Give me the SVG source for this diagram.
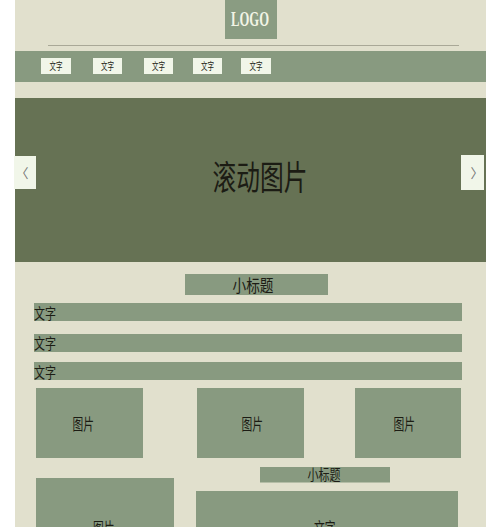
<svg xmlns="http://www.w3.org/2000/svg" width="500" height="527" viewBox="0 0 500 527">
<style>
.cj{font-family:"Noto Sans CJK SC","Noto Sans",sans-serif;fill:#1c1c14}
.g{fill:#889a80}
.btn{fill:#f1f6e9}
</style>
<rect x="0" y="0" width="500" height="527" fill="#ffffff"/>
<rect x="15" y="0" width="471" height="527" fill="#e1e0cd"/>
<g id="logo">
<rect x="225" y="0" width="52" height="39" fill="#8a9c82"/>
<text x="231" y="26" font-family="Liberation Serif,serif" font-weight="bold" font-size="20" textLength="38" lengthAdjust="spacingAndGlyphs" fill="#f2f4e6">LOGO</text>
</g>
<g id="divider"><line x1="48" y1="45.5" x2="459" y2="45.5" stroke="#a9a897" stroke-width="1"/></g>
<g id="nav">
<rect x="15" y="51" width="471" height="31" class="g"/>
<rect x="41" y="58" width="30" height="16" class="btn"/>
<text x="49.5" y="70" class="cj" font-size="10.5" textLength="13" lengthAdjust="spacingAndGlyphs">文字</text>
<rect x="93" y="58" width="29" height="16" class="btn"/>
<text x="101" y="70" class="cj" font-size="10.5" textLength="13" lengthAdjust="spacingAndGlyphs">文字</text>
<rect x="144" y="58" width="29" height="16" class="btn"/>
<text x="152" y="70" class="cj" font-size="10.5" textLength="13" lengthAdjust="spacingAndGlyphs">文字</text>
<rect x="193" y="58" width="29" height="16" class="btn"/>
<text x="201" y="70" class="cj" font-size="10.5" textLength="13" lengthAdjust="spacingAndGlyphs">文字</text>
<rect x="241" y="58" width="30" height="16" class="btn"/>
<text x="249.5" y="70" class="cj" font-size="10.5" textLength="13" lengthAdjust="spacingAndGlyphs">文字</text>
</g>
<g id="banner">
<rect x="15" y="98" width="471" height="164" fill="#667254"/>
<text x="212.5" y="190" class="cj" font-size="34" textLength="95" lengthAdjust="spacingAndGlyphs">滚动图片</text>
</g>
<g id="prev">
<rect x="14" y="156" width="22" height="33" class="btn"/>
<text x="22" y="178" font-family="Noto Sans CJK SC,sans-serif" font-size="13" fill="#777" text-anchor="middle">〈</text>
</g>
<g id="next">
<rect x="461" y="155" width="23" height="35" class="btn"/>
<text x="477" y="178" font-family="Noto Sans CJK SC,sans-serif" font-size="13" fill="#777" text-anchor="middle">〉</text>
</g>
<g id="subtitle1">
<rect x="185" y="274" width="143" height="21" class="g"/>
<text x="232.5" y="292" class="cj" font-size="17" textLength="41" lengthAdjust="spacingAndGlyphs">小标题</text>
</g>
<g id="text1">
<rect x="34" y="303" width="428" height="18" class="g"/>
<text x="34" y="318.5" class="cj" font-size="14.5" textLength="22" lengthAdjust="spacingAndGlyphs">文字</text>
</g>
<g id="text2">
<rect x="34" y="334" width="428" height="18" class="g"/>
<text x="34" y="349" class="cj" font-size="14.5" textLength="22" lengthAdjust="spacingAndGlyphs">文字</text>
</g>
<g id="text3">
<rect x="34" y="362" width="428" height="18" class="g"/>
<text x="34" y="378" class="cj" font-size="14.5" textLength="22" lengthAdjust="spacingAndGlyphs">文字</text>
</g>
<g id="pic1">
<rect x="36" y="388" width="107" height="70" class="g"/>
<text x="72.5" y="430" class="cj" font-size="15.5" textLength="21.5" lengthAdjust="spacingAndGlyphs">图片</text>
</g>
<g id="pic2">
<rect x="197" y="388" width="107" height="70" class="g"/>
<text x="241.5" y="430" class="cj" font-size="15.5" textLength="21.5" lengthAdjust="spacingAndGlyphs">图片</text>
</g>
<g id="pic3">
<rect x="355" y="388" width="106" height="70" class="g"/>
<text x="393.5" y="430" class="cj" font-size="15.5" textLength="21.5" lengthAdjust="spacingAndGlyphs">图片</text>
</g>
<g id="subtitle2">
<rect x="260" y="467" width="130" height="15.5" class="g"/>
<text x="307.5" y="480" class="cj" font-size="14.5" textLength="33" lengthAdjust="spacingAndGlyphs">小标题</text>
</g>
<g id="pic4">
<rect x="36" y="478" width="138" height="49" class="g"/>
<text x="93" y="534" class="cj" font-size="15.5" textLength="21.5" lengthAdjust="spacingAndGlyphs">图片</text>
</g>
<g id="text4">
<rect x="196" y="491" width="262" height="36" class="g"/>
<text x="314" y="534" class="cj" font-size="15.5" textLength="21.5" lengthAdjust="spacingAndGlyphs">文字</text>
</g>
</svg>
